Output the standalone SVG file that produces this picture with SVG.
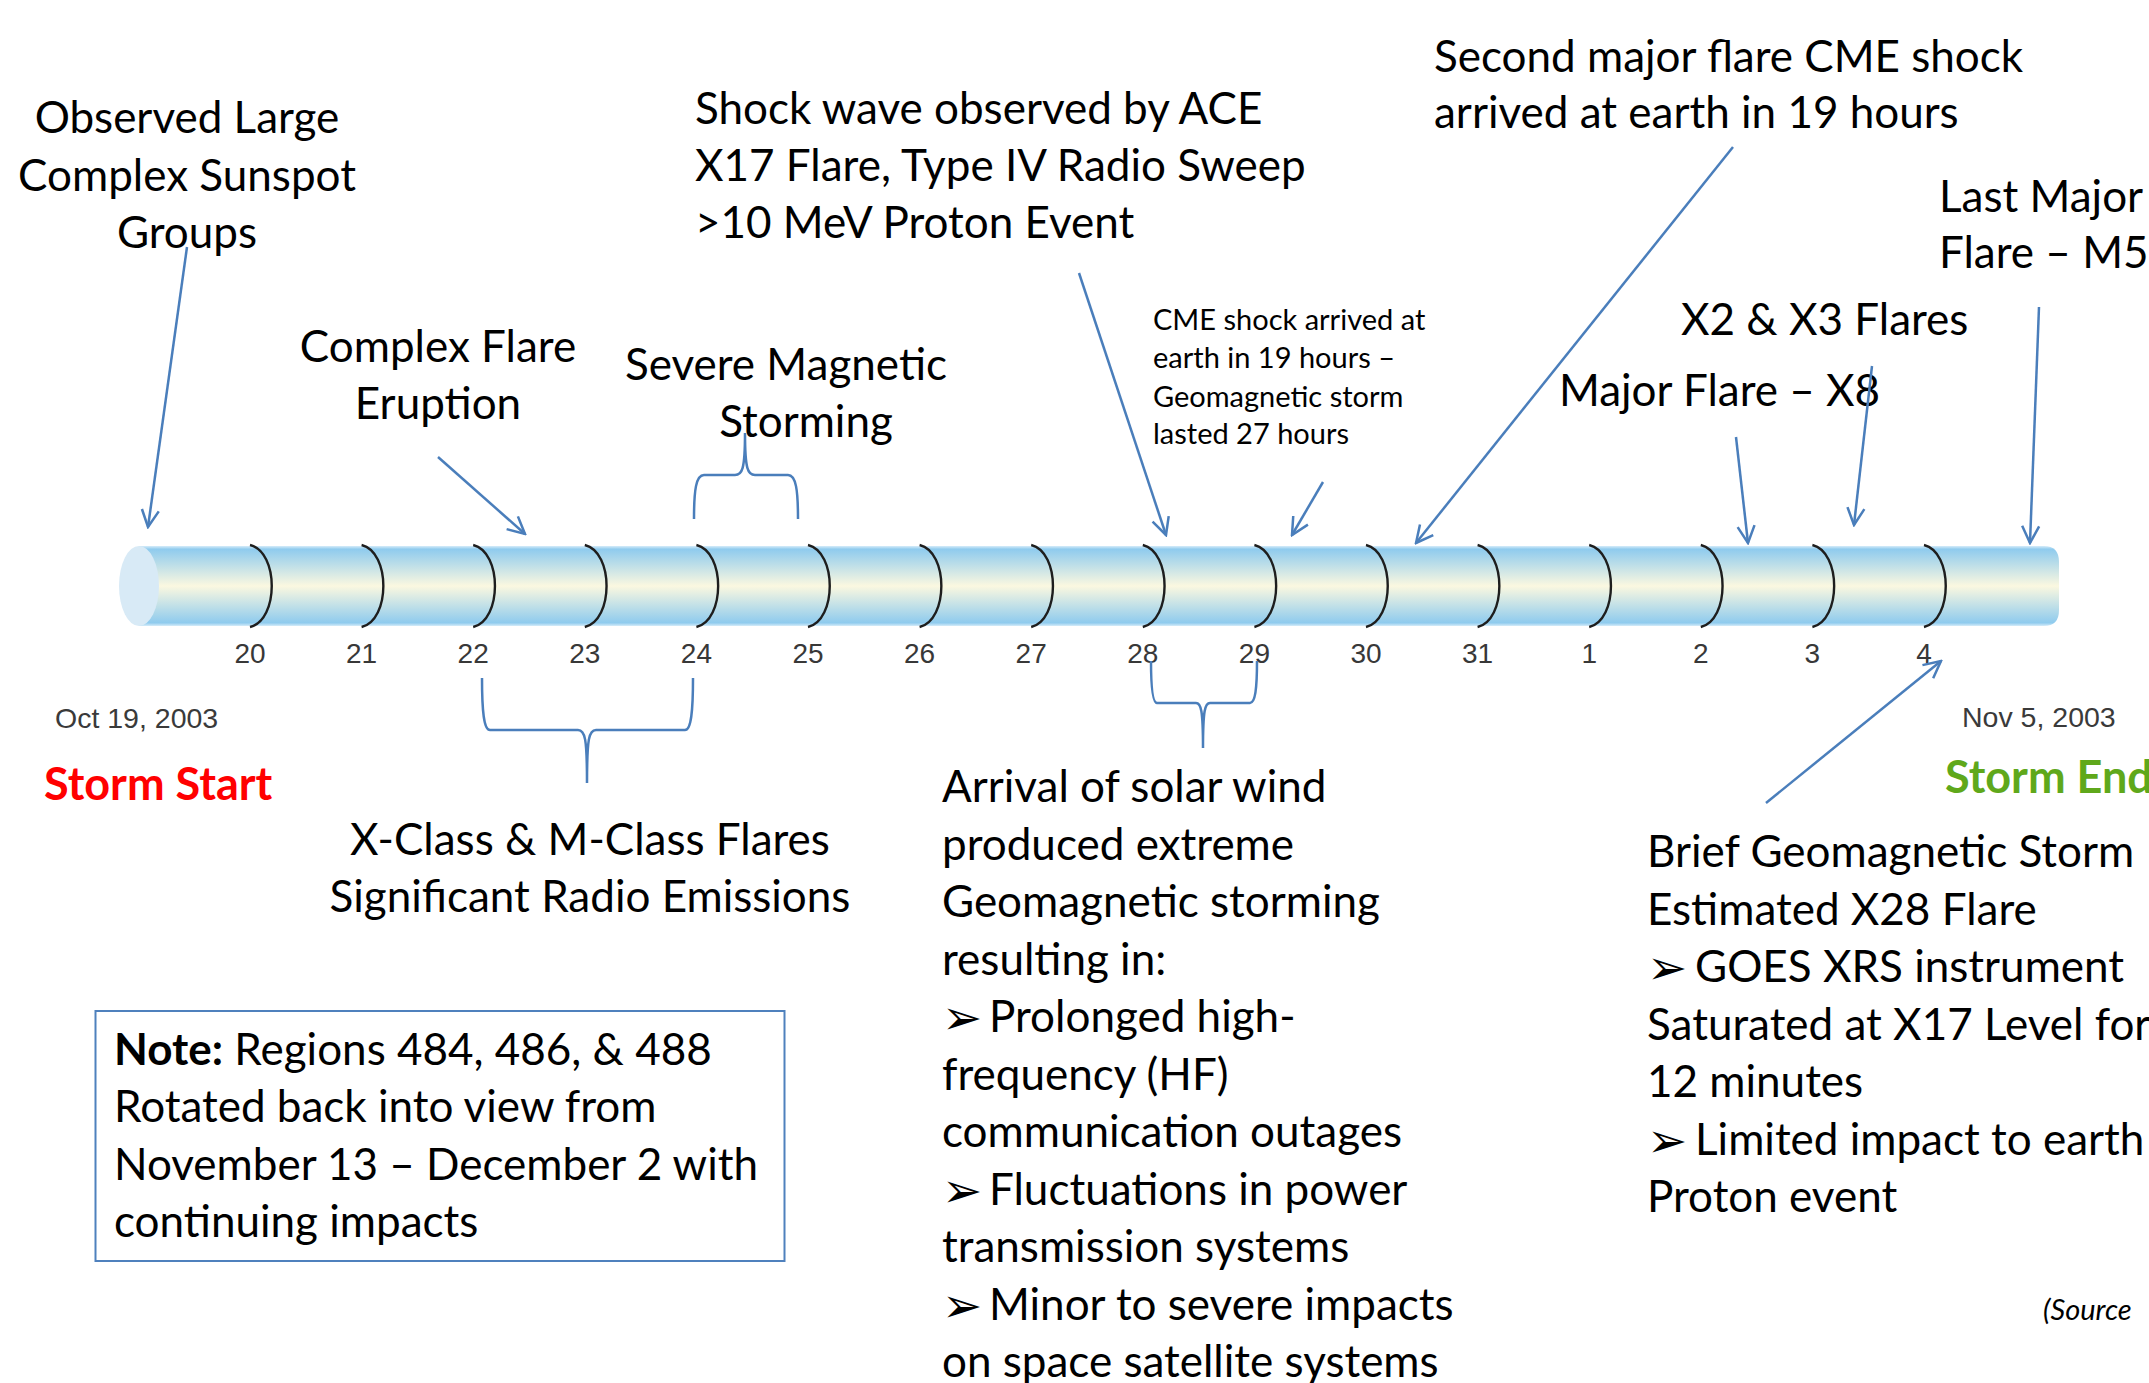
<svg xmlns="http://www.w3.org/2000/svg" width="2149" height="1383" viewBox="0 0 2149 1383">
  <style>
    .t { font-family: Lato, "Noto Sans", "Liberation Sans", sans-serif; font-size: 44px; fill: #000; }
    .s { font-family: Lato, "Noto Sans", "Liberation Sans", sans-serif; font-size: 29px; fill: #000; }
    .day { font-family: "Liberation Sans", Arial, sans-serif; font-size: 28px; fill: #383838; text-anchor: middle; }
    .date { font-family: "Liberation Sans", Arial, sans-serif; font-size: 28.5px; fill: #3a3a3a; }
    .storm { font-family: Lato, "Noto Sans", sans-serif; font-size: 45px; font-weight: bold; }
    .blt { font-family: "DejaVu Sans", sans-serif; font-size: 48px; }
    .mid { text-anchor: middle; }
    .conn { fill: none; stroke: #4a7ebb; stroke-width: 2.5; }
    .arr { marker-end: url(#head); }
    .div { fill: none; stroke: #1e1e1e; stroke-width: 2.4; }
  </style>
  <defs>
    <linearGradient id="barFill" x1="0" y1="0" x2="0" y2="1">
      <stop offset="0" stop-color="#d6ecf9"/>
      <stop offset="0.04" stop-color="#8fcbee"/>
      <stop offset="0.5" stop-color="#fbf8e0"/>
      <stop offset="0.96" stop-color="#8fcbee"/>
      <stop offset="1" stop-color="#d6ecf9"/>
    </linearGradient>
    <marker id="head" markerUnits="userSpaceOnUse" viewBox="0 0 20 20" refX="18" refY="10" markerWidth="20" markerHeight="20" orient="auto">
      <path d="M1,1.5 L18,10 L1,18.5" fill="none" stroke="#4a7ebb" stroke-width="2.5"/>
    </marker>
  </defs>

  <rect width="2149" height="1383" fill="#fff"/>

  <!-- timeline cylinder -->
  <g id="timeline">
    <path d="M139,546 L2044,546 Q2059,546 2059,562 L2059,610 Q2059,626 2044,626 L139,626 Z" fill="url(#barFill)"/>
    <ellipse cx="139" cy="586" rx="20" ry="40" fill="#d8eaf6"/>
    <g id="day-dividers">
      <path class="div" d="M250,545 C279,552 279,620 250,627"/>
      <path class="div" d="M361.6,545 C390.6,552 390.6,620 361.6,627"/>
      <path class="div" d="M473.2,545 C502.2,552 502.2,620 473.2,627"/>
      <path class="div" d="M584.8,545 C613.8,552 613.8,620 584.8,627"/>
      <path class="div" d="M696.4,545 C725.4,552 725.4,620 696.4,627"/>
      <path class="div" d="M808,545 C837,552 837,620 808,627"/>
      <path class="div" d="M919.6,545 C948.6,552 948.6,620 919.6,627"/>
      <path class="div" d="M1031.2,545 C1060.2,552 1060.2,620 1031.2,627"/>
      <path class="div" d="M1142.8,545 C1171.8,552 1171.8,620 1142.8,627"/>
      <path class="div" d="M1254.4,545 C1283.4,552 1283.4,620 1254.4,627"/>
      <path class="div" d="M1366,545 C1395,552 1395,620 1366,627"/>
      <path class="div" d="M1477.6,545 C1506.6,552 1506.6,620 1477.6,627"/>
      <path class="div" d="M1589.2,545 C1618.2,552 1618.2,620 1589.2,627"/>
      <path class="div" d="M1700.8,545 C1729.8,552 1729.8,620 1700.8,627"/>
      <path class="div" d="M1812.4,545 C1841.4,552 1841.4,620 1812.4,627"/>
      <path class="div" d="M1924,545 C1953,552 1953,620 1924,627"/>
    </g>
    <g id="day-labels">
      <text class="day" x="250" y="663">20</text>
      <text class="day" x="361.6" y="663">21</text>
      <text class="day" x="473.2" y="663">22</text>
      <text class="day" x="584.8" y="663">23</text>
      <text class="day" x="696.4" y="663">24</text>
      <text class="day" x="808" y="663">25</text>
      <text class="day" x="919.6" y="663">26</text>
      <text class="day" x="1031.2" y="663">27</text>
      <text class="day" x="1142.8" y="663">28</text>
      <text class="day" x="1254.4" y="663">29</text>
      <text class="day" x="1366" y="663">30</text>
      <text class="day" x="1477.6" y="663">31</text>
      <text class="day" x="1589.2" y="663">1</text>
      <text class="day" x="1700.8" y="663">2</text>
      <text class="day" x="1812.4" y="663">3</text>
      <text class="day" x="1924" y="663">4</text>
    </g>
    <text class="date" x="55" y="728">Oct 19, 2003</text>
    <text class="date" x="1962" y="727">Nov 5, 2003</text>
  </g>

  <g id="storm-start"><text class="storm" x="44" y="800" fill="#ff0000">Storm Start</text></g>
  <g id="storm-end"><text class="storm" x="1945" y="793" fill="#5fa81b">Storm End</text></g>

  <!-- event labels -->
  <g id="sunspots">
    <text class="t mid" x="187" y="133">Observed Large</text>
    <text class="t mid" x="187" y="191">Complex Sunspot</text>
    <text class="t mid" x="187" y="248">Groups</text>
  </g>
  <g id="flare-eruption">
    <text class="t mid" x="438" y="362">Complex Flare</text>
    <text class="t mid" x="438" y="419">Eruption</text>
  </g>
  <g id="magnetic-storming">
    <text class="t mid" x="786" y="380">Severe Magnetic</text>
    <text class="t mid" x="806" y="437">Storming</text>
  </g>
  <g id="shock-wave">
    <text class="t" x="695" y="124">Shock wave observed by ACE</text>
    <text class="t" x="695" y="181">X17 Flare, Type IV Radio Sweep</text>
    <text class="t" x="695" y="238">&gt;10 MeV Proton Event</text>
  </g>
  <g id="second-flare">
    <text class="t" x="1434" y="72">Second major flare CME shock</text>
    <text class="t" x="1434" y="128">arrived at earth in 19 hours</text>
  </g>
  <g id="cme-shock">
    <text class="s" x="1153" y="330">CME shock arrived at</text>
    <text class="s" x="1153" y="368">earth in 19 hours –</text>
    <text class="s" x="1153" y="407">Geomagnetic storm</text>
    <text class="s" x="1153" y="444">lasted 27 hours</text>
  </g>
  <g id="x2-x3">
    <text class="t" x="1681" y="335">X2 &amp; X3 Flares</text>
  </g>
  <g id="x8">
    <text class="t" x="1559" y="406">Major Flare – X8</text>
  </g>
  <g id="m5">
    <text class="t" x="1939" y="212">Last Major</text>
    <text class="t" x="1939" y="268">Flare – M5</text>
  </g>
  <g id="x-m-class">
    <text class="t mid" x="590" y="855">X-Class &amp; M-Class Flares</text>
    <text class="t mid" x="590" y="912">Significant Radio Emissions</text>
  </g>
  <g id="solar-wind">
    <text class="t" x="942" y="802">Arrival of solar wind</text>
    <text class="t" x="942" y="859.5">produced extreme</text>
    <text class="t" x="942" y="917">Geomagnetic storming</text>
    <text class="t" x="942" y="974.5">resulting in:</text>
    <text class="t" x="942" y="1034"><tspan class="blt">➢</tspan><tspan x="989" y="1032">Prolonged high-</tspan></text>
    <text class="t" x="942" y="1089.5">frequency (HF)</text>
    <text class="t" x="942" y="1147">communication outages</text>
    <text class="t" x="942" y="1206.5"><tspan class="blt">➢</tspan><tspan x="989" y="1204.5">Fluctuations in power</tspan></text>
    <text class="t" x="942" y="1262">transmission systems</text>
    <text class="t" x="942" y="1321.5"><tspan class="blt">➢</tspan><tspan x="989" y="1319.5">Minor to severe impacts</tspan></text>
    <text class="t" x="942" y="1377">on space satellite systems</text>
  </g>
  <g id="brief-storm">
    <text class="t" x="1647" y="867">Brief Geomagnetic Storm</text>
    <text class="t" x="1647" y="924.5">Estimated X28 Flare</text>
    <text class="t" x="1647" y="984"><tspan class="blt">➢</tspan><tspan x="1695" y="982">GOES XRS instrument</tspan></text>
    <text class="t" x="1647" y="1039.5">Saturated at X17 Level for</text>
    <text class="t" x="1647" y="1097">12 minutes</text>
    <text class="t" x="1647" y="1156.5"><tspan class="blt">➢</tspan><tspan x="1695" y="1154.5">Limited impact to earth</tspan></text>
    <text class="t" x="1647" y="1212">Proton event</text>
  </g>
  <g id="note">
    <rect x="95.5" y="1011" width="689" height="250" fill="#fff" stroke="#4f81bd" stroke-width="2"/>
    <text class="t" x="114" y="1065"><tspan font-weight="bold">Note:</tspan> Regions 484, 486, &amp; 488</text>
    <text class="t" x="114" y="1122">Rotated back into view from</text>
    <text class="t" x="114" y="1180">November 13 – December 2 with</text>
    <text class="t" x="114" y="1237">continuing impacts</text>
  </g>
  <g id="source">
    <text class="s" x="2043" y="1320" font-size="31" font-style="italic">(Source</text>
  </g>

  <!-- connectors: arrows and braces -->
  <g id="connectors">
    <path class="conn arr" d="M187,247 L148,527"/>
    <path class="conn arr" d="M438,457 L525,534"/>
    <path class="conn arr" d="M1079,273 L1166,535"/>
    <path class="conn arr" d="M1323,482 L1292,535"/>
    <path class="conn arr" d="M1733,147 L1416,543"/>
    <path class="conn arr" d="M1736,437 L1748,543"/>
    <path class="conn arr" d="M1872,366 L1854,525"/>
    <path class="conn arr" d="M2039,307 L2030,543"/>
    <path class="conn arr" d="M1766,803 L1941,661"/>
    <path class="conn" d="M694,519 C694,490 696,475 704,475 L735,475 C742,475 745,470 745,433 C745,470 748,475 755,475 L788,475 C796,475 798,490 798,519"/>
    <path class="conn" d="M482,678 C482,712 484,730 490,730 L578,730 C585,730 587,738 587,783 C587,738 589,730 596,730 L685,730 C691,730 693,712 693,678"/>
    <path class="conn" d="M1151,661 C1151,690 1153,703 1157,703 L1196,703 C1201,703 1203,710 1203,748 C1203,710 1205,703 1210,703 L1250,703 C1255,703 1257,690 1257,661"/>
  </g>
</svg>
